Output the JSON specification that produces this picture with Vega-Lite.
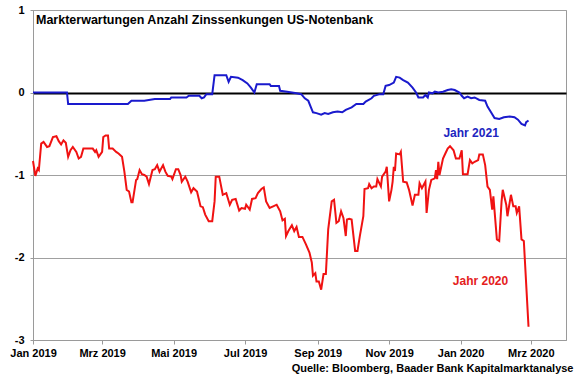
{
"$schema": "https://vega.github.io/schema/vega-lite/v6.json",
"width": 533, "height": 330,
"autosize": {"type": "none"},
"padding": {"left": 33, "top": 10, "right": 14, "bottom": 35},
"background": "white",
"config": {"view": {"stroke": "#9a9a9a", "strokeWidth": 1}, "font": "Liberation Sans"},
"title": {"text": "Markterwartungen Anzahl Zinssenkungen US-Notenbank", "orient": "none", "anchor": "start", "frame": "group", "fontSize": 12.5, "fontWeight": "bold", "font": "Liberation Sans", "color": "black", "baseline": "alphabetic", "align": "left", "offset": 0, "dx": 3, "dy": 14},
"datasets": {
"red": [
{"d":"2019-01-01","v":-0.83},{"d":"2019-01-03","v":-1.01},{"d":"2019-01-05","v":-0.92},{"d":"2019-01-06","v":-0.94},{"d":"2019-01-08","v":-0.62},{"d":"2019-01-10","v":-0.60},{"d":"2019-01-13","v":-0.66},{"d":"2019-01-15","v":-0.65},{"d":"2019-01-18","v":-0.54},{"d":"2019-01-21","v":-0.53},{"d":"2019-01-23","v":-0.59},{"d":"2019-01-25","v":-0.63},{"d":"2019-01-27","v":-0.58},{"d":"2019-01-29","v":-0.61},{"d":"2019-01-31","v":-0.78},
{"d":"2019-02-02","v":-0.70},{"d":"2019-02-04","v":-0.66},{"d":"2019-02-07","v":-0.72},{"d":"2019-02-09","v":-0.80},{"d":"2019-02-11","v":-0.78},{"d":"2019-02-13","v":-0.68},{"d":"2019-02-17","v":-0.68},{"d":"2019-02-21","v":-0.68},{"d":"2019-02-23","v":-0.72},{"d":"2019-02-24","v":-0.70},{"d":"2019-02-26","v":-0.78},
{"d":"2019-03-01","v":-0.72},{"d":"2019-03-02","v":-0.54},{"d":"2019-03-04","v":-0.52},{"d":"2019-03-06","v":-0.52},{"d":"2019-03-07","v":-0.68},{"d":"2019-03-10","v":-0.68},{"d":"2019-03-13","v":-0.72},{"d":"2019-03-15","v":-0.74},{"d":"2019-03-18","v":-0.78},{"d":"2019-03-20","v":-0.96},{"d":"2019-03-22","v":-1.18},{"d":"2019-03-24","v":-1.20},{"d":"2019-03-26","v":-1.33},{"d":"2019-03-27","v":-1.33},{"d":"2019-03-30","v":-1.06},{"d":"2019-03-31","v":-1.05},
{"d":"2019-04-02","v":-0.94},{"d":"2019-04-04","v":-0.99},{"d":"2019-04-06","v":-1.00},{"d":"2019-04-08","v":-1.02},{"d":"2019-04-10","v":-1.11},{"d":"2019-04-13","v":-0.94},{"d":"2019-04-15","v":-0.93},{"d":"2019-04-17","v":-0.88},{"d":"2019-04-19","v":-0.96},{"d":"2019-04-22","v":-0.88},{"d":"2019-04-24","v":-0.96},{"d":"2019-04-26","v":-1.01},{"d":"2019-04-29","v":-1.02},{"d":"2019-04-30","v":-1.05},
{"d":"2019-05-03","v":-0.93},{"d":"2019-05-05","v":-0.93},{"d":"2019-05-07","v":-1.00},{"d":"2019-05-08","v":-1.08},{"d":"2019-05-11","v":-1.02},{"d":"2019-05-13","v":-1.08},{"d":"2019-05-16","v":-1.21},{"d":"2019-05-18","v":-1.16},{"d":"2019-05-21","v":-1.20},{"d":"2019-05-24","v":-1.38},{"d":"2019-05-26","v":-1.39},{"d":"2019-05-28","v":-1.48},{"d":"2019-05-31","v":-1.56},
{"d":"2019-06-03","v":-1.56},{"d":"2019-06-05","v":-1.32},{"d":"2019-06-06","v":-1.02},{"d":"2019-06-09","v":-1.02},{"d":"2019-06-12","v":-1.24},{"d":"2019-06-15","v":-1.22},{"d":"2019-06-18","v":-1.36},{"d":"2019-06-20","v":-1.30},{"d":"2019-06-23","v":-1.29},{"d":"2019-06-26","v":-1.43},{"d":"2019-06-28","v":-1.40},
{"d":"2019-07-01","v":-1.41},{"d":"2019-07-02","v":-1.36},{"d":"2019-07-05","v":-1.42},{"d":"2019-07-07","v":-1.29},{"d":"2019-07-10","v":-1.28},{"d":"2019-07-12","v":-1.22},{"d":"2019-07-15","v":-1.17},{"d":"2019-07-17","v":-1.15},{"d":"2019-07-19","v":-1.32},{"d":"2019-07-22","v":-1.40},{"d":"2019-07-25","v":-1.38},{"d":"2019-07-28","v":-1.36},{"d":"2019-07-31","v":-1.44},
{"d":"2019-08-02","v":-1.55},{"d":"2019-08-04","v":-1.53},{"d":"2019-08-05","v":-1.74},{"d":"2019-08-07","v":-1.68},{"d":"2019-08-10","v":-1.61},{"d":"2019-08-12","v":-1.68},{"d":"2019-08-14","v":-1.63},{"d":"2019-08-16","v":-1.75},{"d":"2019-08-19","v":-1.75},{"d":"2019-08-22","v":-1.84},{"d":"2019-08-25","v":-1.94},{"d":"2019-08-27","v":-2.06},{"d":"2019-08-28","v":-2.22},{"d":"2019-08-30","v":-2.19},{"d":"2019-08-31","v":-2.29},
{"d":"2019-09-02","v":-2.29},{"d":"2019-09-04","v":-2.39},{"d":"2019-09-06","v":-2.20},{"d":"2019-09-08","v":-2.20},{"d":"2019-09-10","v":-1.66},{"d":"2019-09-13","v":-1.32},{"d":"2019-09-15","v":-1.30},{"d":"2019-09-17","v":-1.58},{"d":"2019-09-19","v":-1.56},{"d":"2019-09-21","v":-1.44},{"d":"2019-09-23","v":-1.52},{"d":"2019-09-25","v":-1.74},{"d":"2019-09-26","v":-1.54},{"d":"2019-09-28","v":-1.53},{"d":"2019-09-30","v":-1.54},
{"d":"2019-10-03","v":-1.92},{"d":"2019-10-05","v":-1.92},{"d":"2019-10-07","v":-1.74},{"d":"2019-10-10","v":-1.50},{"d":"2019-10-11","v":-1.17},{"d":"2019-10-14","v":-1.16},{"d":"2019-10-15","v":-1.11},{"d":"2019-10-17","v":-1.16},{"d":"2019-10-19","v":-1.14},{"d":"2019-10-21","v":-1.14},{"d":"2019-10-22","v":-1.05},{"d":"2019-10-25","v":-1.14},{"d":"2019-10-26","v":-1.02},{"d":"2019-10-29","v":-0.96},{"d":"2019-10-30","v":-0.90},
{"d":"2019-11-01","v":-1.32},{"d":"2019-11-03","v":-1.18},{"d":"2019-11-04","v":-1.08},{"d":"2019-11-05","v":-0.90},{"d":"2019-11-06","v":-0.95},{"d":"2019-11-07","v":-0.74},{"d":"2019-11-10","v":-0.75},{"d":"2019-11-11","v":-0.72},{"d":"2019-11-13","v":-1.08},{"d":"2019-11-16","v":-1.09},{"d":"2019-11-18","v":-1.18},{"d":"2019-11-21","v":-1.37},{"d":"2019-11-23","v":-1.24},{"d":"2019-11-26","v":-1.24},{"d":"2019-11-27","v":-1.10},{"d":"2019-11-29","v":-1.16},
{"d":"2019-12-02","v":-1.08},{"d":"2019-12-03","v":-1.46},{"d":"2019-12-05","v":-1.18},{"d":"2019-12-07","v":-1.06},{"d":"2019-12-10","v":-1.04},{"d":"2019-12-11","v":-0.94},{"d":"2019-12-12","v":-1.05},{"d":"2019-12-13","v":-0.84},{"d":"2019-12-14","v":-1.00},{"d":"2019-12-17","v":-0.80},{"d":"2019-12-19","v":-0.74},{"d":"2019-12-21","v":-0.68},{"d":"2019-12-23","v":-0.65},{"d":"2019-12-26","v":-0.70},{"d":"2019-12-28","v":-0.80},{"d":"2019-12-31","v":-0.80},
{"d":"2020-01-02","v":-0.70},{"d":"2020-01-03","v":-0.99},{"d":"2020-01-07","v":-0.99},{"d":"2020-01-09","v":-0.82},{"d":"2020-01-11","v":-0.86},{"d":"2020-01-13","v":-0.84},{"d":"2020-01-16","v":-0.82},{"d":"2020-01-17","v":-0.75},{"d":"2020-01-20","v":-0.75},{"d":"2020-01-22","v":-0.88},{"d":"2020-01-24","v":-1.14},{"d":"2020-01-26","v":-1.18},{"d":"2020-01-28","v":-1.42},{"d":"2020-01-29","v":-1.26},
{"d":"2020-02-01","v":-1.78},{"d":"2020-02-03","v":-1.80},{"d":"2020-02-05","v":-1.32},{"d":"2020-02-06","v":-1.18},{"d":"2020-02-09","v":-1.36},{"d":"2020-02-10","v":-1.50},{"d":"2020-02-13","v":-1.24},{"d":"2020-02-15","v":-1.38},{"d":"2020-02-17","v":-1.38},{"d":"2020-02-18","v":-1.46},{"d":"2020-02-20","v":-1.38},{"d":"2020-02-22","v":-1.78},{"d":"2020-02-24","v":-1.80},{"d":"2020-02-28","v":-2.84}
],
"blue": [
{"d":"2019-01-01","v":0},{"d":"2019-01-30","v":0},{"d":"2019-01-31","v":-0.14},{"d":"2019-03-23","v":-0.14},{"d":"2019-03-26","v":-0.10},{"d":"2019-04-06","v":-0.10},{"d":"2019-04-15","v":-0.08},{"d":"2019-04-28","v":-0.08},{"d":"2019-04-29","v":-0.06},{"d":"2019-05-12","v":-0.06},{"d":"2019-05-14","v":-0.04},{"d":"2019-05-23","v":-0.04},{"d":"2019-05-25","v":-0.07},{"d":"2019-05-27","v":-0.06},{"d":"2019-05-29","v":-0.02},{"d":"2019-06-03","v":-0.02},
{"d":"2019-06-05","v":0.21},{"d":"2019-06-15","v":0.21},{"d":"2019-06-17","v":0.13},{"d":"2019-06-19","v":0.19},{"d":"2019-06-25","v":0.18},{"d":"2019-06-29","v":0.15},{"d":"2019-07-03","v":0.11},{"d":"2019-07-06","v":0.06},{"d":"2019-07-09","v":0.0},{"d":"2019-07-11","v":0.10},{"d":"2019-07-22","v":0.10},{"d":"2019-07-23","v":0.08},{"d":"2019-07-30","v":0.08},{"d":"2019-07-31","v":0.02},
{"d":"2019-08-06","v":0.01},{"d":"2019-08-14","v":-0.01},{"d":"2019-08-18","v":-0.02},{"d":"2019-08-21","v":-0.07},{"d":"2019-08-24","v":-0.10},{"d":"2019-08-26","v":-0.17},{"d":"2019-08-28","v":-0.24},{"d":"2019-08-31","v":-0.25},{"d":"2019-09-04","v":-0.27},{"d":"2019-09-07","v":-0.25},{"d":"2019-09-10","v":-0.26},{"d":"2019-09-14","v":-0.24},{"d":"2019-09-18","v":-0.23},{"d":"2019-09-22","v":-0.24},{"d":"2019-09-25","v":-0.21},{"d":"2019-09-30","v":-0.18},
{"d":"2019-10-04","v":-0.14},{"d":"2019-10-10","v":-0.14},{"d":"2019-10-12","v":-0.11},{"d":"2019-10-17","v":-0.07},{"d":"2019-10-19","v":-0.04},{"d":"2019-10-24","v":-0.02},{"d":"2019-10-27","v":-0.02},{"d":"2019-10-29","v":0.08},{"d":"2019-11-01","v":0.09},{"d":"2019-11-05","v":0.12},{"d":"2019-11-07","v":0.19},{"d":"2019-11-10","v":0.18},{"d":"2019-11-13","v":0.15},{"d":"2019-11-17","v":0.12},{"d":"2019-11-21","v":0.06},{"d":"2019-11-24","v":0.0},{"d":"2019-11-26","v":-0.06},{"d":"2019-11-30","v":-0.06},
{"d":"2019-12-02","v":-0.03},{"d":"2019-12-04","v":-0.06},{"d":"2019-12-05","v":0.0},{"d":"2019-12-08","v":-0.01},{"d":"2019-12-10","v":0.01},{"d":"2019-12-13","v":0.0},{"d":"2019-12-17","v":0.01},{"d":"2019-12-21","v":0.03},{"d":"2019-12-24","v":0.04},{"d":"2019-12-27","v":0.03},{"d":"2019-12-31","v":0.0},
{"d":"2020-01-02","v":-0.04},{"d":"2020-01-04","v":-0.07},{"d":"2020-01-07","v":-0.05},{"d":"2020-01-10","v":-0.07},{"d":"2020-01-13","v":-0.06},{"d":"2020-01-17","v":-0.09},{"d":"2020-01-22","v":-0.10},{"d":"2020-01-24","v":-0.17},{"d":"2020-01-27","v":-0.24},{"d":"2020-01-30","v":-0.31},{"d":"2020-02-03","v":-0.32},{"d":"2020-02-07","v":-0.30},{"d":"2020-02-12","v":-0.29},{"d":"2020-02-16","v":-0.30},{"d":"2020-02-19","v":-0.33},{"d":"2020-02-22","v":-0.38},{"d":"2020-02-25","v":-0.40},{"d":"2020-02-26","v":-0.36},{"d":"2020-02-28","v":-0.34}
],
"labels": [
{"d":"2020-01-10","v":-0.49,"t":"Jahr 2021","s":"b"},
{"d":"2020-01-18","v":-2.28,"t":"Jahr 2020","s":"r"}
]
},
"encoding": {
"x": {"field": "d", "type": "temporal",
 "scale": {"domain": [{"year": 2019, "month": 1, "date": 1, "utc": true}, {"year": 2020, "month": 3, "date": 31, "utc": true}]},
 "axis": {"values": [{"year": 2019, "month": 1, "date": 1, "utc": true}, {"year": 2019, "month": 3, "date": 1, "utc": true}, {"year": 2019, "month": 5, "date": 1, "utc": true}, {"year": 2019, "month": 7, "date": 1, "utc": true}, {"year": 2019, "month": 9, "date": 1, "utc": true}, {"year": 2019, "month": 11, "date": 1, "utc": true}, {"year": 2020, "month": 1, "date": 1, "utc": true}, {"year": 2020, "month": 3, "date": 1, "utc": true}],
  "labelExpr": "['Jan','Feb','Mrz','Apr','Mai','Jun','Jul','Aug','Sep','Okt','Nov','Dez'][utcmonth(datum.value)] + ' ' + utcyear(datum.value)",
  "title": "Quelle: Bloomberg, Baader Bank Kapitalmarktanalyse",
  "titleX": 540, "titleY": 31, "titleAlign": "right", "titleAnchor": "end", "titleBaseline": "alphabetic",
  "titleFont": "Liberation Sans", "titleFontSize": 11, "titleFontWeight": "bold", "titleColor": "black",
  "labelFont": "Liberation Sans", "labelFontSize": 11, "labelFontWeight": "bold", "labelColor": "black", "labelPadding": 3, "labelOverlap": false, "labelFlush": false,
  "tickSize": 4, "tickColor": "#9a9a9a", "domainColor": "#9a9a9a", "grid": false}},
"y": {"field": "v", "type": "quantitative",
 "scale": {"domain": [-3, 1], "nice": false},
 "axis": {"values": [-3, -2, -1, 0, 1], "labelExpr": "'' + datum.value", "title": null,
  "labelFont": "Liberation Sans", "labelFontSize": 11, "labelFontWeight": "bold", "labelColor": "black", "labelPadding": 6, "labelFlush": false,
  "tickSize": 3, "tickColor": "#9a9a9a", "domainColor": "#9a9a9a",
  "grid": true,
  "gridColor": {"condition": {"test": "datum.value === 0", "value": "black"}, "value": "#a0a0a0"},
  "gridWidth": {"condition": {"test": "datum.value === 0", "value": 2}, "value": 1}}}
},
"layer": [
{"data": {"name": "red"}, "mark": {"type": "line", "color": "#f01212", "strokeWidth": 2}},
{"data": {"name": "blue"}, "mark": {"type": "line", "color": "#1a1acd", "strokeWidth": 2}},
{"data": {"name": "labels"}, "mark": {"type": "text", "fontSize": 12, "fontWeight": "bold", "font": "Liberation Sans", "align": "center", "baseline": "middle"},
 "encoding": {"text": {"field": "t"}, "color": {"field": "s", "type": "nominal", "scale": {"domain": ["r", "b"], "range": ["#e4201c", "#2024c0"]}, "legend": null}}}
]
}
